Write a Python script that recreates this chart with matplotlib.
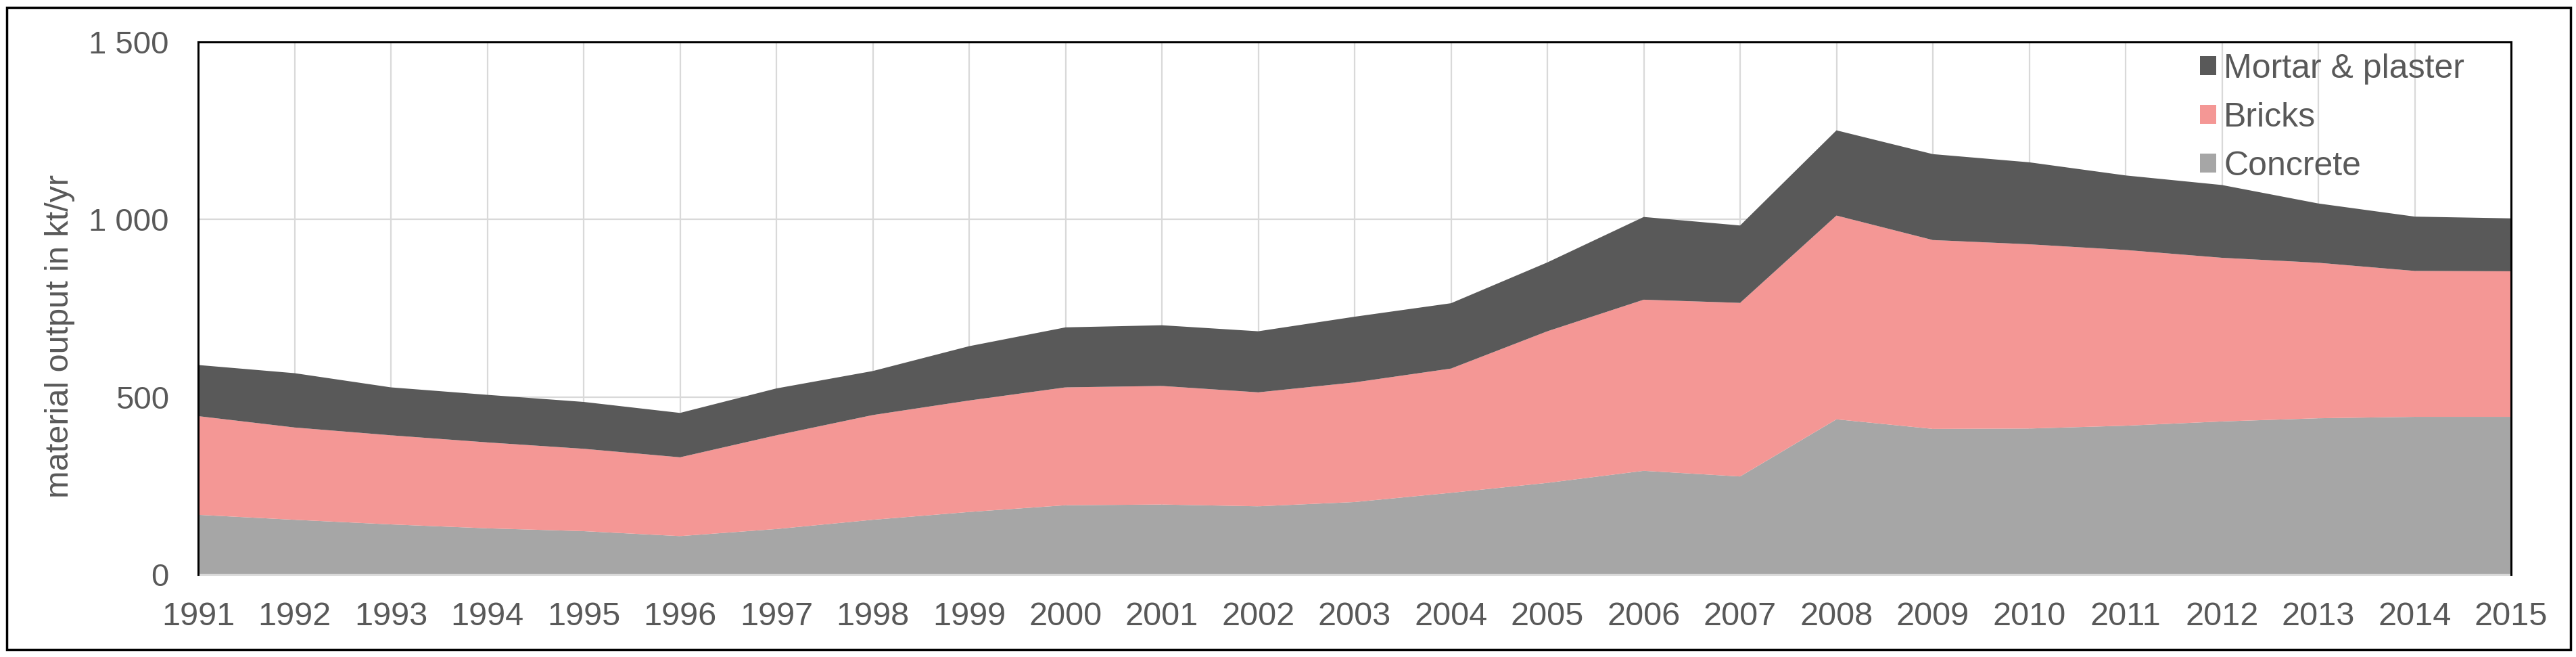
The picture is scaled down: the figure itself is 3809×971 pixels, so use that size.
import matplotlib
matplotlib.use("Agg")
import matplotlib.pyplot as plt
from matplotlib.patches import Patch, Rectangle
from matplotlib.ticker import FuncFormatter

plt.rcParams["font.family"] = ["Liberation Sans", "DejaVu Sans"]

years = list(range(1991, 2016))
concrete = [168, 154, 141, 130, 122, 108, 128, 154, 176, 195, 197, 192, 204,
            230, 258, 292, 276, 437, 410, 411, 419, 431, 440, 444, 444]
bricks = [278, 260, 251, 242, 232, 222, 264, 295, 314, 332, 334, 321, 337,
          350, 427, 482, 489, 574, 532, 519, 495, 461, 438, 411, 410]
mortar = [144, 153, 135, 134, 132, 125, 132, 124, 153, 169, 171, 172, 185,
          184, 194, 233, 218, 240, 242, 231, 210, 205, 167, 153, 149]
series_names = ["Concrete", "Bricks", "Mortar & plaster"]
series_colors = ["#A6A6A6", "#F49795", "#595959"]
y_ticks = [0, 500, 1000, 1500]
y_label = "material output in kt/yr"

W, H = 3809, 971
fig = plt.figure(figsize=(W / 100, H / 100), dpi=100)
ax = fig.add_axes([293 / W, 1 - 849 / H, (3713 - 293) / W, (849 - 62) / H])

ax.stackplot(years, concrete, bricks, mortar, colors=series_colors,
             linewidth=0, zorder=2)
ax.set_xlim(years[0], years[-1])
ax.set_ylim(0, 1500)
ax.set_xticks(years)
ax.set_yticks(y_ticks)
ax.yaxis.set_major_formatter(FuncFormatter(lambda v, p: f"{int(v):,}".replace(",", " ")))
ax.grid(True, color="#D9D9D9", linewidth=1.6, zorder=0)
ax.set_axisbelow(True)

for s in ["left", "top", "right"]:
    ax.spines[s].set_color("black")
    ax.spines[s].set_linewidth(2.2)
    ax.spines[s].set_zorder(5)
ax.spines["bottom"].set_color("#D9D9D9")
ax.spines["bottom"].set_linewidth(2.2)

ax.tick_params(axis="both", length=0)
ax.tick_params(axis="y", pad=31, labelsize=34, labelcolor="#595959")
ax.tick_params(axis="x", pad=29, labelsize=35, labelcolor="#595959")

ax.set_ylabel(y_label, fontsize=35, color="#595959", va="center")
ax.yaxis.set_label_coords((88 - 293) / 3420, (849 - 497) / 787)

handles = [Patch(facecolor=c, edgecolor="none") for c in series_colors]
leg = ax.legend(handles[::-1], series_names[::-1], loc="upper left",
                bbox_to_anchor=(3253 / W, 1 - 79 / H), bbox_transform=fig.transFigure,
                frameon=False, borderpad=0, borderaxespad=0,
                handlelength=0.48, handleheight=0.48, handletextpad=0.22,
                labelspacing=0.52, prop={"size": 36})
for t in leg.get_texts():
    t.set_color("#595959")

fig.patches.append(Rectangle((10 / W, 11 / H), (3801 - 10) / W, (960 - 11) / H,
                             transform=fig.transFigure, fill=False,
                             edgecolor="black", linewidth=2.5))

fig.savefig("out.png", dpi=100)
